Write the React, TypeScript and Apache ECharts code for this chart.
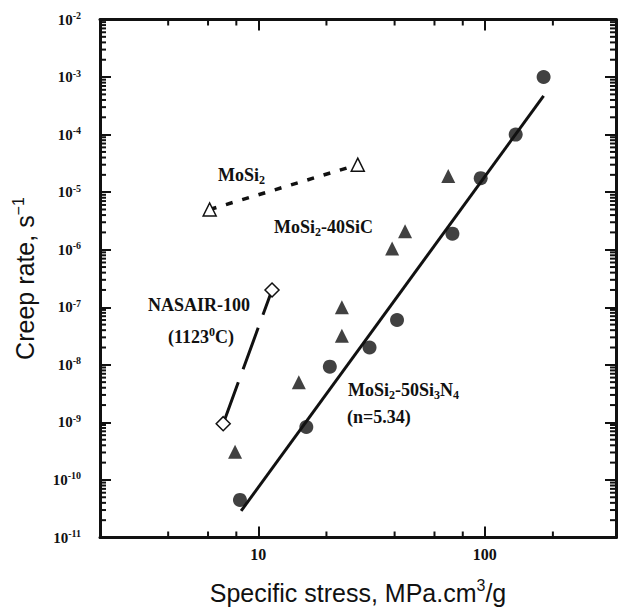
import React, { useEffect, useRef } from 'react';
import * as echarts from 'echarts';

// Axis extents
const X_MIN = 2;
const X_MAX = 380;
const Y_MIN = 1e-11;
const Y_MAX = 1e-2;

// MoSi2-50Si3N4 (filled circles)
const si3n4Stress = [8.3, 16.3, 20.7, 31, 41, 72, 96, 137, 182];
const si3n4Rate = [4.5e-11, 8.3e-10, 9.3e-9, 2.0e-8, 6.0e-8, 1.9e-6, 1.75e-5, 1.0e-4, 1.0e-3];

// MoSi2-40SiC (filled triangles)
const sicStress = [7.9, 15.1, 23.4, 23.4, 39, 44.5, 69];
const sicRate = [3.1e-10, 5.0e-9, 3.2e-8, 1.0e-7, 1.05e-6, 2.1e-6, 1.9e-5];

// MoSi2 (open triangles)
const mosi2Stress = [6.1, 27.5];
const mosi2Rate = [5.0e-6, 3.0e-5];

// NASAIR-100 at 1123 C (open diamonds)
const nasairStress = [7.0, 11.5];
const nasairRate = [9.5e-10, 2.0e-7];

// Power-law fit for MoSi2-50Si3N4 (n = 5.34)
const fitStress = [8.4, 182];
const fitRate = [2.9e-11, 4.7e-4];

// Minor tick positions
const xMinorTicks = [4, 6, 8, 20, 40, 60, 80, 200];
const yMinorFactors = [2, 3, 4, 5, 6, 7, 8, 9];
const yDecadeExponents = [-11, -10, -9, -8, -7, -6, -5, -4, -3];

const pairs = (xs: number[], ys: number[]) => xs.map((x, i) => [x, ys[i]]);

const SERIF = 'Liberation Serif';
const SANS = 'Liberation Sans';
const INK = '#111';

const isDecade = (v: number) => Math.abs(Math.log10(v) - Math.round(Math.log10(v))) < 1e-6;

const annoRich = () => ({
  b: { fontFamily: SERIF, fontWeight: 'bold', fontSize: 18, lineHeight: 22, fill: INK },
  sub: { fontFamily: SERIF, fontWeight: 'bold', fontSize: 12, lineHeight: 12, verticalAlign: 'bottom', fill: INK },
  sup: { fontFamily: SERIF, fontWeight: 'bold', fontSize: 12, lineHeight: 12, verticalAlign: 'top', fill: INK },
});

const anno = (x: number, y: number, text: string) => ({
  type: 'text',
  x,
  y,
  silent: true,
  style: { text, rich: annoRich(), align: 'left', verticalAlign: 'middle', fill: INK },
});

const mkAxisLine = () => ({ show: true, lineStyle: { color: INK, width: 3 } });
const mkAxisTick = () => ({ show: true, inside: true, length: 11, lineStyle: { color: INK, width: 2 } });

export default function App() {
  const ref = useRef<HTMLDivElement>(null);
  const [msg, setMsg] = React.useState('');

  useEffect(() => {
    if (!ref.current) return;
    const chart = echarts.init(ref.current, null, { renderer: 'svg' });

    const yMinorTicks: number[] = [];
    yDecadeExponents.forEach((e) => {
      yMinorFactors.forEach((f) => yMinorTicks.push(f * Math.pow(10, e)));
    });

    const option: any = {
      animation: false,
      grid: { left: 100, right: 4, top: 19.5, bottom: 68.5 },
      xAxis: [
        {
          type: 'log',
          min: X_MIN,
          max: X_MAX,
          position: 'bottom',
          axisLine: mkAxisLine(),
          axisTick: mkAxisTick(),
          splitLine: { show: false },
          axisLabel: {
            margin: 9,
            fontFamily: SERIF,
            fontWeight: 'bold',
            fontSize: 16,
            color: INK,
            formatter: (v: number) => (isDecade(v) ? String(Math.round(v)) : ''),
          },
          name: '{t|Specific stress, MPa.cm}{s|3}{t|/g}',
          nameLocation: 'middle',
          nameGap: 40,
          nameTextStyle: {
            rich: {
              t: { fontFamily: SANS, fontSize: 25, lineHeight: 30, color: INK },
              s: { fontFamily: SANS, fontSize: 16, lineHeight: 16, verticalAlign: 'top', color: INK },
            },
          },
        },
        {
          type: 'log',
          min: X_MIN,
          max: X_MAX,
          position: 'top',
          axisLine: mkAxisLine(),
          axisTick: mkAxisTick(),
          splitLine: { show: false },
          axisLabel: { show: false },
        },
      ],
      yAxis: [
        {
          type: 'log',
          min: Y_MIN,
          max: Y_MAX,
          position: 'left',
          axisLine: mkAxisLine(),
          axisTick: mkAxisTick(),
          splitLine: { show: false },
          axisLabel: {
            margin: 19,
            formatter: (v: number) => `{b|10}{s|${Math.round(Math.log10(v))}}`,
            rich: {
              b: { fontFamily: SERIF, fontWeight: 'bold', fontSize: 15, lineHeight: 18, color: INK },
              s: { fontFamily: SERIF, fontWeight: 'bold', fontSize: 10, lineHeight: 10, verticalAlign: 'top', color: INK },
            },
          },
          name: '{t|Creep rate, s}{s|\u22121}',
          nameLocation: 'middle',
          nameGap: 60,
          nameTextStyle: {
            rich: {
              t: { fontFamily: SANS, fontSize: 25, lineHeight: 30, color: INK },
              s: { fontFamily: SANS, fontSize: 16, lineHeight: 16, verticalAlign: 'top', color: INK },
            },
          },
        },
        {
          type: 'log',
          min: Y_MIN,
          max: Y_MAX,
          position: 'right',
          axisLine: mkAxisLine(),
          axisTick: mkAxisTick(),
          splitLine: { show: false },
          axisLabel: { show: false },
        },
      ],
      series: [
        {
          type: 'custom',
          clip: false,
          data: xMinorTicks.map((v) => [v, Y_MIN]),
          renderItem: (_p: any, api: any) => {
            const v = api.value(0);
            const b = api.coord([v, Y_MIN]);
            const t = api.coord([v, Y_MAX]);
            return {
              type: 'group',
              children: [
                { type: 'line', shape: { x1: b[0], y1: b[1], x2: b[0], y2: b[1] - 6 }, style: { stroke: INK, lineWidth: 2 } },
                { type: 'line', shape: { x1: t[0], y1: t[1], x2: t[0], y2: t[1] + 6 }, style: { stroke: INK, lineWidth: 2 } },
              ],
            };
          },
        },
        {
          type: 'custom',
          clip: false,
          data: yMinorTicks.map((v) => [X_MIN, v]),
          renderItem: (_p: any, api: any) => {
            const v = api.value(1);
            const l = api.coord([X_MIN, v]);
            const r = api.coord([X_MAX, v]);
            return {
              type: 'group',
              children: [
                { type: 'line', shape: { x1: l[0], y1: l[1], x2: l[0] + 6, y2: l[1] }, style: { stroke: INK, lineWidth: 2 } },
                { type: 'line', shape: { x1: r[0], y1: r[1], x2: r[0] - 6, y2: r[1] }, style: { stroke: INK, lineWidth: 2 } },
              ],
            };
          },
        },
        {
          type: 'line',
          data: pairs(fitStress, fitRate),
          symbol: 'none',
          lineStyle: { color: INK, width: 3 },
        },
        {
          type: 'line',
          data: pairs(mosi2Stress, mosi2Rate),
          symbol: 'triangle',
          symbolSize: 13,
          itemStyle: { color: '#fff', borderColor: INK, borderWidth: 1.5 },
          lineStyle: { color: INK, width: 3.5, type: [7, 10] },
        },
        {
          type: 'line',
          data: pairs(nasairStress, nasairRate),
          symbol: 'diamond',
          symbolSize: 14,
          itemStyle: { color: '#fff', borderColor: INK, borderWidth: 1.5 },
          lineStyle: { color: INK, width: 3, type: [44, 14] },
        },
        {
          type: 'scatter',
          data: pairs(sicStress, sicRate),
          symbol: 'triangle',
          symbolSize: 14,
          itemStyle: { color: INK },
        },
        {
          type: 'scatter',
          data: pairs(si3n4Stress, si3n4Rate),
          symbol: 'circle',
          symbolSize: 14,
          itemStyle: { color: INK },
        },
      ],
      graphic: [
        anno(218, 175, '{b|MoSi}{sub|2}'),
        anno(274, 227, '{b|MoSi}{sub|2}{b|-40SiC}'),
        anno(148, 305, '{b|NASAIR-100}'),
        anno(168, 337, '{b|(1123}{sup|0}{b|C)}'),
        anno(348, 390, '{b|MoSi}{sub|2}{b|-50Si}{sub|3}{b|N}{sub|4}'),
        anno(347, 417, '{b|(n=5.34)}'),
      ],
    };

    try {
      chart.setOption(option);
    } catch (e: any) {
      setMsg(String((e && e.stack) || e).slice(0, 400));
    }
    return () => chart.dispose();
  }, []);

  return (
    <>
      <div ref={ref} style={{ position: 'fixed', left: 0, top: 0, width: 620, height: 610, background: '#fff' }} />
      {msg ? (
        <div style={{ position: 'fixed', left: 0, top: 0, width: 600, fontSize: 11, fontFamily: 'DejaVu Sans', color: 'red' }}>{msg}</div>
      ) : null}
    </>
  );
}
